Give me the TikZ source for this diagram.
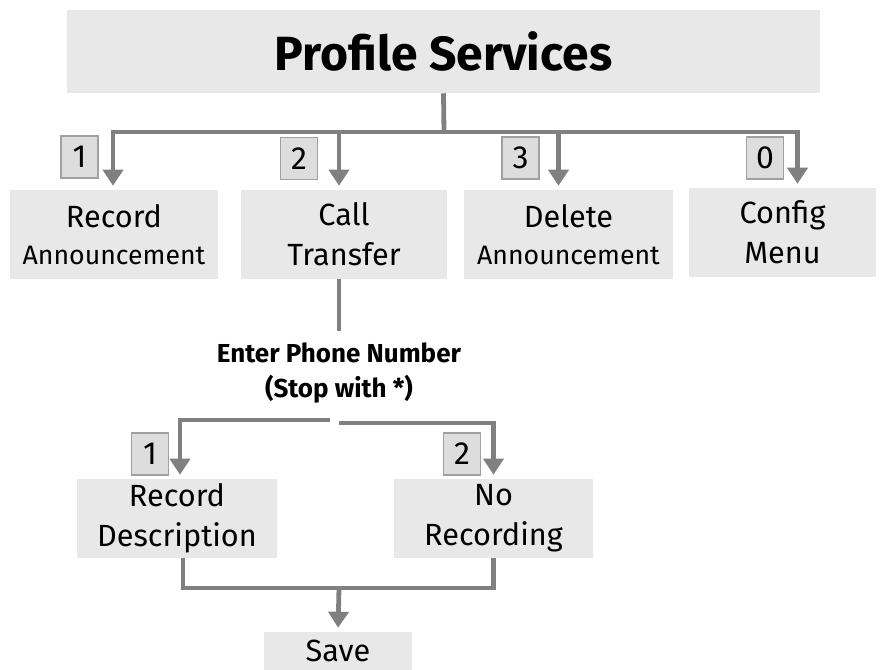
\documentclass[tikz,border=0pt]{standalone}
\usepackage{fontspec}
\setmainfont{Fira Sans}
\usepackage{tikz}
\usetikzlibrary{
  arrows.meta,
  calc,
  positioning
}
\definecolor{boxgray}{RGB}{232,232,232}
\definecolor{keygray}{RGB}{221,221,221}
\definecolor{keyline}{RGB}{160,160,160}
\definecolor{wire}{RGB}{128,128,128}
\tikzset{
  menu/.style={ x=0.75pt, y=-0.75pt },
  menubox/.style={
    fill=boxgray,
    draw=none,
    align=center,
    inner sep=0pt,
    minimum height=89*0.75pt,
    font=\fontsize{23}{30}\selectfont
  },
  keybox/.style={
    fill=keygray,
    draw=keyline,
    line width=0.8pt,
    inner sep=0pt,
    minimum width=37*0.75pt,
    minimum height=42*0.75pt,
    font=\fontsize{24}{26}\selectfont
  },
  flow/.style={
    draw=wire,
    line width=3.6pt
  },
  arrow/.style={
    flow,
    -{Triangle[length=12pt,width=15pt]},
    shorten >=3pt
  },
  prompt/.style={
    align=center,
    inner sep=0pt,
    font=\bfseries\fontsize{19.5}{26}\selectfont
  }
}
\newcommand{\subline}{\fontsize{20}{26}\selectfont}

\begin{document}
\begin{tikzpicture}[menu]
  \useasboundingbox (0,0) rectangle (888,670);
  \node[menubox, minimum width=753*0.75pt, minimum height=83*0.75pt,
    font=\bfseries\fontsize{36}{40}\selectfont] (title) at (443.5,51.5) {Profile Services};
  \node[menubox, minimum width=208*0.75pt] (recann) at (114,234.5) {Record\\[-2pt]{\subline Announcement}};
  \node[menubox, minimum width=206*0.75pt] (transfer) at (344,234.5) {Call\\Transfer};
  \node[menubox, minimum width=209*0.75pt] (delann) at (568.5,234.5) {Delete\\[-2pt]{\subline Announcement}};
  \node[menubox, minimum width=187*0.75pt] (config) at (782.5,232.5) {Config\\Menu};
  \node[keybox] (key1) at (79.5,157) {1};
  \node[keybox] (key2) at (299,158.5) {2};
  \node[keybox] (key3) at (520.5,158) {3};
  \node[keybox] (key0) at (765,158) {0};
  \coordinate (bar) at (444,132);
  \draw[flow] (title.south) -- (bar);
  \draw[arrow] (bar) -| ($(recann.north)+(-1,0)$);
  \draw[arrow] (bar) -| ($(transfer.north)+(-5,0)$);
  \draw[arrow] (bar) -| ($(delann.north)+(-10,0)$);
  \draw[arrow] (bar) -| ($(config.north)+(15,0)$);

  \node[prompt] (number) at (339,373) {Enter Phone Number\\(Stop with *)};
  \draw[flow] ($(transfer.south)+(-5,0)$) -- ($(number.north)+(0,-12)$);
  \coordinate (forkL) at (330,420);
  \coordinate (forkR) at (339,423);
  \node[menubox, minimum width=200*0.75pt, minimum height=79*0.75pt] (recdesc) at (177,518.5) {Record\\Description};
  \node[menubox, minimum width=199*0.75pt, minimum height=79*0.75pt] (norec) at (493.5,518.5) {No\\Recording};
  \node[keybox] (opt1) at (150,454) {1};
  \node[keybox] (opt2) at (462,454) {2};
  \draw[arrow] (forkL) -| ($(recdesc.north)+(3,0)$);
  \draw[arrow] (forkR) -| (norec.north);

  \node[menubox, minimum width=148*0.75pt, minimum height=38*0.75pt] (save) at (338,651) {Save};
  \coordinate (merge) at (339,588);
  \draw[flow] ($(recdesc.south)+(6,0)$) |- (merge) -| (norec.south);
  \draw[arrow] (merge) -- (save.north);
\end{tikzpicture}
\end{document}
